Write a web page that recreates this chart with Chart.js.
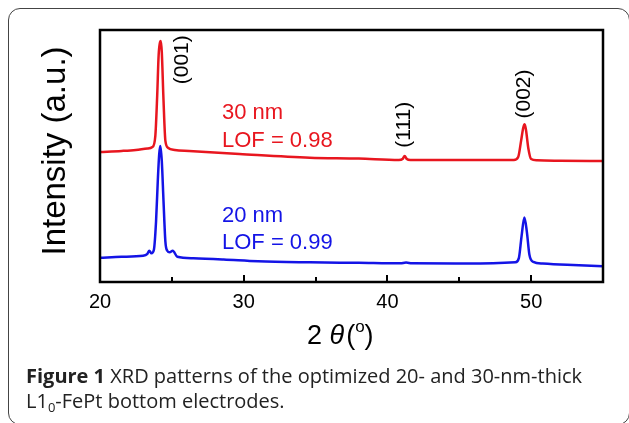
<!DOCTYPE html>
<html>
<head>
<meta charset="utf-8">
<script src="https://cdn.jsdelivr.net/npm/chart.js@4"></script>
<style>
  body { margin: 0; background: #fff; }
  #wrap { position: relative; width: 629px; height: 423px; overflow: hidden; }
  #frame {
    position: absolute; left: 8px; top: 8px; width: 622px; height: 417px;
    border: 1.5px solid #444; border-radius: 12px; box-sizing: border-box;
  }
  #chart { position: absolute; left: 0; top: 0; }
  #caption {
    position: absolute; left: 26px; top: 363px; width: 600px;
    font-family: "Open Sans", sans-serif; font-size: 20px; line-height: 25px;
    color: #222; white-space: nowrap;
  }
  #caption b { font-weight: 700; }
  #caption sub { font-size: 13px; vertical-align: baseline; position: relative; top: 4px; line-height: 0; }
</style>
</head>
<body>
<div id="wrap">
  <div id="frame"></div>
  <canvas id="chart" width="629" height="423"></canvas>
  <div id="caption"><b>Figure 1</b> XRD patterns of the optimized 20- and 30-nm-thick<br>L1<sub>0</sub>-FePt bottom electrodes.</div>
</div>
<script>
// 2theta positions and intensities (a.u.)
const twoTheta30 = [20.0, 21.5, 22.5, 23.3, 23.65, 23.85, 23.98, 24.08, 24.18, 24.23, 24.3, 24.42, 24.55, 24.75, 25.2, 26.2, 29.7, 34.6, 38.0, 40.8, 41.05, 41.2, 41.35, 41.6, 45.0, 48.8, 49.1, 49.3, 49.45, 49.55, 49.65, 49.8, 50.0, 50.4, 52.0, 55.0];
const intensity30 = [129, 130, 131, 132.5, 134, 145, 185, 225, 238, 239, 228, 180, 140, 133, 131, 130, 127, 123.3, 122.5, 121, 122, 125, 122, 121, 121, 121, 124, 140, 153, 156.5, 150, 133, 122, 120.7, 120.3, 120];

const twoTheta20 = [20.0, 21.5, 23.0, 23.3, 23.43, 23.58, 23.75, 23.9, 24.02, 24.12, 24.2, 24.3, 24.42, 24.55, 24.68, 24.85, 25.06, 25.38, 26.5, 28.6, 31.0, 34.6, 38.0, 40.9, 41.3, 41.7, 45.5, 48.9, 49.15, 49.33, 49.53, 49.7, 49.88, 50.15, 50.8, 52.5, 55.0];
const intensity20 = [24, 25, 26, 28, 31, 28.5, 32, 60, 100, 127, 135, 120, 80, 40, 31, 29.5, 31, 25, 23.5, 22.3, 20.5, 19.5, 19, 18.5, 19.3, 18.5, 18.3, 19.5, 24, 45, 64, 50, 27, 20, 18.3, 17, 15.6];

const xTicks = [20, 30, 40, 50];

// peak labels: [text, 2theta, intensity of label centre]
const peakLabels = [["(001)", 25.7, 220.5], ["(111)", 41.2, 156], ["(002)", 49.5, 186.5]];

const red = "#e8161f";
const blue = "#1414e6";

function toPoints(xs, ys) {
  return xs.map((x, i) => ({ x: x, y: ys[i] }));
}

// frame, inner ticks and all the text drawn on the plot
const decorations = {
  id: "decorations",
  afterDraw(chart) {
    const ctx = chart.ctx;
    const area = chart.chartArea;
    const xs = chart.scales.x;
    const ys = chart.scales.y;
    ctx.save();

    // axis box
    ctx.strokeStyle = "#000";
    ctx.lineWidth = 2.5;
    ctx.strokeRect(area.left, area.top, area.right - area.left, area.bottom - area.top);

    // ticks pointing inwards
    ctx.lineWidth = 2;
    for (let v = 25; v < 55; v += 5) {
      const px = Math.round(xs.getPixelForValue(v));
      const len = v % 10 === 0 ? 7 : 5;
      ctx.beginPath();
      ctx.moveTo(px, area.bottom);
      ctx.lineTo(px, area.bottom - len);
      ctx.stroke();
    }

    // peak indices, rotated
    ctx.fillStyle = "#000";
    ctx.font = "21px Arial, 'Liberation Sans'";
    ctx.textAlign = "center";
    ctx.textBaseline = "middle";
    peakLabels.forEach(p => {
      ctx.save();
      ctx.translate(xs.getPixelForValue(p[1]), ys.getPixelForValue(p[2]));
      ctx.rotate(-Math.PI / 2);
      ctx.fillText(p[0], 0, 0);
      ctx.restore();
    });

    // sample labels
    ctx.font = "22px Arial, 'Liberation Sans'";
    ctx.textAlign = "left";
    ctx.textBaseline = "alphabetic";
    ctx.fillStyle = red;
    ctx.fillText("30 nm", 222, 119);
    ctx.fillText("LOF = 0.98", 222, 147);
    ctx.fillStyle = blue;
    ctx.fillText("20 nm", 222, 222);
    ctx.fillText("LOF = 0.99", 222, 249);

    // y axis title
    ctx.fillStyle = "#000";
    ctx.save();
    ctx.translate(56, 151);
    ctx.rotate(-Math.PI / 2);
    ctx.font = "33px Arial, 'Liberation Sans'";
    ctx.textAlign = "center";
    ctx.textBaseline = "middle";
    ctx.fillText("Intensity (a.u.)", 0, 0);
    ctx.restore();

    // x axis title: 2 θ(°)
    ctx.textBaseline = "alphabetic";
    ctx.textAlign = "left";
    let x = 307;
    const base = 344;
    ctx.font = "27px Arial, 'Liberation Sans'";
    ctx.fillText("2 ", x, base);
    x += ctx.measureText("2 ").width;
    ctx.font = "italic 27px Arial, 'Liberation Sans'";
    ctx.fillText("θ", x, base);
    x += ctx.measureText("θ").width + 2;
    ctx.font = "27px Arial, 'Liberation Sans'";
    ctx.fillText("(", x, base);
    x += ctx.measureText("(").width;
    ctx.font = "17px Arial, 'Liberation Sans'";
    ctx.fillText("o", x, base - 12);
    x += ctx.measureText("o").width;
    ctx.font = "27px Arial, 'Liberation Sans'";
    ctx.fillText(")", x, base);

    ctx.restore();
  }
};

document.addEventListener("DOMContentLoaded", () => {
  const ctx = document.getElementById("chart").getContext("2d");
  new Chart(ctx, {
    type: "line",
    data: {
      datasets: [
        {
          label: "30 nm",
          data: toPoints(twoTheta30, intensity30),
          borderColor: red,
          borderWidth: 2.5,
          pointRadius: 0,
          cubicInterpolationMode: "monotone"
        },
        {
          label: "20 nm",
          data: toPoints(twoTheta20, intensity20),
          borderColor: blue,
          borderWidth: 2.5,
          pointRadius: 0,
          cubicInterpolationMode: "monotone"
        }
      ]
    },
    options: {
      responsive: false,
      animation: false,
      devicePixelRatio: 1,
      layout: { padding: { left: 100, top: 30, right: 26, bottom: 101 } },
      plugins: { legend: { display: false }, tooltip: { enabled: false } },
      scales: {
        x: {
          type: "linear",
          min: 20,
          max: 55,
          grid: { display: false, drawTicks: false },
          border: { display: false },
          ticks: {
            stepSize: 5,
            autoSkip: false,
            maxRotation: 0,
            padding: 8,
            color: "#000",
            font: { family: "Arial, 'Liberation Sans'", size: 20 },
            callback: v => (xTicks.includes(v) ? String(v) : "")
          }
        },
        y: { display: false, min: 0, max: 250 }
      }
    },
    plugins: [decorations]
  });
});
</script>
</body>
</html>
